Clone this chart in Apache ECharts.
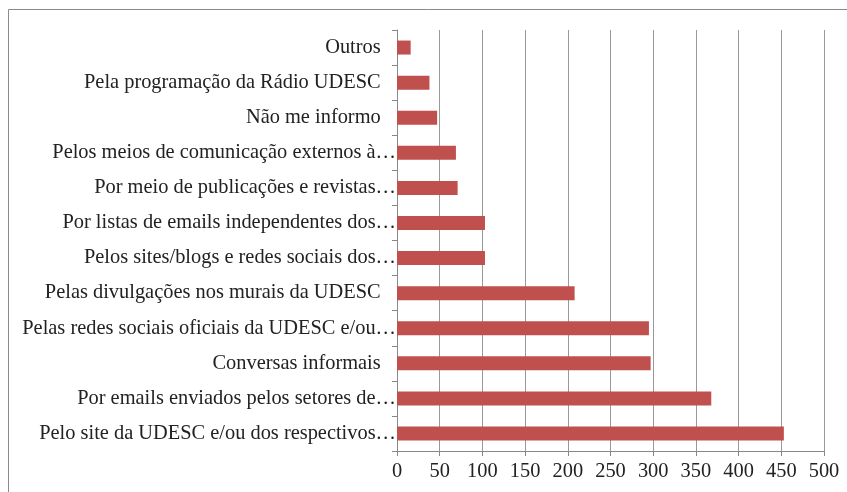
<!DOCTYPE html>
<html>
<head>
<meta charset="utf-8">
<script src="https://cdn.jsdelivr.net/npm/echarts@6/dist/echarts.min.js"></script>
<style>
html,body{margin:0;padding:0;background:#fff;}
#chart{width:847px;height:492px;}
</style>
</head>
<body>
<div id="chart"></div>
<script>
// bottom to top
const categories = [
  'Pelo site da UDESC e/ou dos respectivos…',
  'Por emails enviados pelos setores de…',
  'Conversas informais\u00a0\u00a0\u00a0',
  'Pelas redes sociais oficiais da UDESC e/ou…',
  'Pelas divulgações nos murais da UDESC\u00a0\u00a0\u00a0',
  'Pelos sites/blogs e redes sociais dos…',
  'Por listas de emails independentes dos…',
  'Por meio de publicações e revistas…',
  'Pelos meios de comunicação externos à…',
  'Não me informo\u00a0\u00a0\u00a0',
  'Pela programação da Rádio UDESC\u00a0\u00a0\u00a0',
  'Outros\u00a0\u00a0\u00a0'
];
const values = [453, 368, 297, 295, 208, 103, 103, 71, 69, 47, 38, 16];
const xTicks = [0, 50, 100, 150, 200, 250, 300, 350, 400, 450, 500];

const chart = echarts.init(document.getElementById('chart'));
const font = '"Liberation Serif", "DejaVu Serif", serif';
chart.setOption({
  animation: false,
  backgroundColor: '#ffffff',
  graphic: [{
    type: 'rect',
    shape: {x: 8.5, y: 9.5, width: 900, height: 600},
    style: {fill: 'none', stroke: '#8a8a8a', lineWidth: 1},
    silent: true
  }],
  grid: {left: 397, right: 23, top: 30, bottom: 41, containLabel: false},
  xAxis: {
    type: 'value',
    min: xTicks[0],
    max: xTicks[xTicks.length - 1],
    interval: 50,
    axisLine: {show: true, lineStyle: {color: '#888', width: 1}},
    axisTick: {show: true, length: 5, lineStyle: {color: '#888'}},
    splitLine: {show: true, lineStyle: {color: '#999', width: 1}},
    axisLabel: {fontFamily: font, fontSize: 20.4, color: '#222', margin: 11}
  },
  yAxis: {
    type: 'category',
    data: categories,
    axisLine: {show: true, lineStyle: {color: '#888', width: 1}},
    axisTick: {show: true, length: 5, lineStyle: {color: '#888'}},
    axisLabel: {fontFamily: font, fontSize: 20.4, color: '#222', margin: 1}
  },
  series: [{
    type: 'bar',
    data: values,
    barWidth: 14,
    itemStyle: {color: '#C0504D'}
  }]
});
</script>
</body>
</html>
